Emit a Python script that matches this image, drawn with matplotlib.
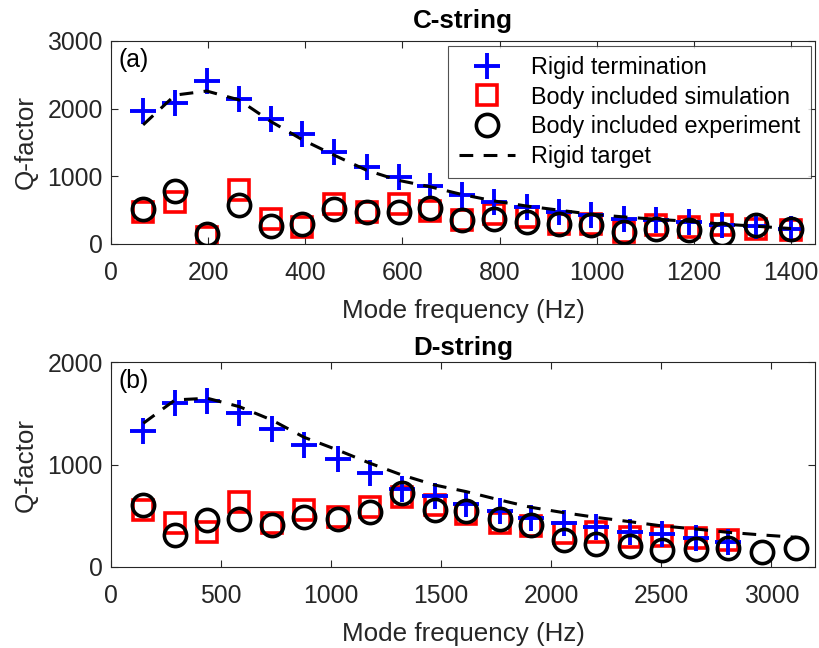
import numpy as np
import matplotlib
matplotlib.use('Agg')
import matplotlib.pyplot as plt

plt.rcParams['font.family'] = ['Liberation Sans', 'DejaVu Sans']

# C-string (panel a)
freq_c = [66, 132, 197, 263, 329, 394, 460, 526, 592, 657, 723, 789, 856, 922,
          988, 1055, 1122, 1189, 1257, 1328, 1400]
rigid_c = [1964, 2078, 2413, 2137, 1841, 1623, 1362, 1140, 992, 850, 721, 622,
           548, 474, 425, 376, 351, 326, 277, 262, 225]
sim_c = [474, 622, 104, 795, 376, 252, 598, 474, 598, 485, 351, 450, 400, 302,
         302, 178, 277, 252, 277, 228, 205]
exp_c = [524, 785, 144, 573, 267, 302, 514, 474, 474, 535, 351, 376, 326, 292,
         277, 178, 228, 203, 144, 277, 218]
target_c = [1760, 2200, 2260, 2130, 1810, 1540, 1310, 1090, 940, 845, 730, 635,
            560, 500, 440, 400, 365, 335, 295, 262, 228]

# D-string (panel b)
freq_d = [147, 291, 438, 583, 730, 877, 1029, 1177, 1321, 1470, 1614, 1765, 1908,
          2056, 2203, 2356, 2503, 2658, 2801, 2958, 3114]
rigid_d = [1329, 1599, 1625, 1502, 1345, 1192, 1052, 915, 759, 690, 620, 547,
           475, 433, 394, 345, 319, 280, 247]
sim_d = [557, 427, 345, 638, 427, 557, 492, 589, 687, 606, 515, 427, 401, 329,
         345, 296, 303, 280, 264]
exp_d = [606, 313, 459, 466, 410, 492, 466, 534, 720, 557, 550, 466, 410, 264,
         225, 205, 166, 173, 183, 150, 189]
target_d = [1404, 1632, 1648, 1566, 1436, 1267, 1143, 1013, 899, 801, 736, 655,
            583, 531, 485, 443, 401, 371, 339, 313, 290]

gris = '#262626'
fs_tick = 17.8
fs_lab = 18.7


def panneau(ax, f, rigid, sim, exp, target, titre, lettre, xlim, ylim, yticks, xticks, pad_titre):
    ax.plot(f[:len(sim)], sim, 's', ms=14, mfc='none', mec='red', mew=2.6,
            zorder=2, label='Body included simulation')
    ax.plot(f[:len(rigid)], rigid, '+', ms=19, color='blue', mew=2.8, zorder=3,
            label='Rigid termination')
    ax.plot(f[:len(exp)], exp, 'o', ms=16, mfc='none', mec='black', mew=2.6,
            zorder=4, label='Body included experiment')
    ax.plot(f[:len(target)], target, color='black', lw=2.2, ls=(0, (4.5, 3.4)),
            zorder=5, label='Rigid target')
    ax.set_xlim(xlim)
    ax.set_ylim(ylim)
    ax.set_xticks(xticks)
    ax.set_yticks(yticks)
    ax.tick_params(direction='in', top=True, right=True, length=5, width=0.8,
                   colors=gris, labelsize=fs_tick)
    ax.tick_params(axis='x', pad=12)
    ax.tick_params(axis='y', pad=6)
    for s in ax.spines.values():
        s.set_color(gris)
        s.set_linewidth(0.8)
    ax.set_xlabel('Mode frequency (Hz)', fontsize=fs_lab, color=gris, labelpad=10)
    ax.set_ylabel('Q-factor', fontsize=fs_lab, color=gris, labelpad=7)
    ax.set_title(titre, fontsize=fs_lab, fontweight='bold', pad=pad_titre)
    ax.text(0.01, 0.965, lettre, transform=ax.transAxes, fontsize=fs_tick,
            va='top', ha='left')


fig = plt.figure(figsize=(8.2, 6.48), dpi=100)
ax1 = fig.add_axes([0.1354, 0.6235, 0.859, 0.3133])
ax2 = fig.add_axes([0.1354, 0.125, 0.859, 0.316])

panneau(ax1, freq_c, rigid_c, sim_c, exp_c, target_c, 'C-string', '(a)',
        [0, 1450], [0, 3000], [0, 1000, 2000, 3000], np.arange(0, 1401, 200), 9)
panneau(ax2, freq_d, rigid_d, sim_d, exp_d, target_d, 'D-string', '(b)',
        [0, 3200], [0, 2000], [0, 1000, 2000], np.arange(0, 3001, 500), 5)

h, l = ax1.get_legend_handles_labels()
ordre = [1, 0, 2, 3]
leg = ax1.legend([h[i] for i in ordre], [l[i] for i in ordre], loc='upper right',
                 fontsize=16.8, frameon=True, fancybox=False, edgecolor=gris,
                 borderaxespad=0.2, handlelength=2.4, borderpad=0.45,
                 labelspacing=0.28, handletextpad=0.7, markerscale=1.0)
leg.get_frame().set_linewidth(0.8)

fig.savefig('out.png', dpi=100)
